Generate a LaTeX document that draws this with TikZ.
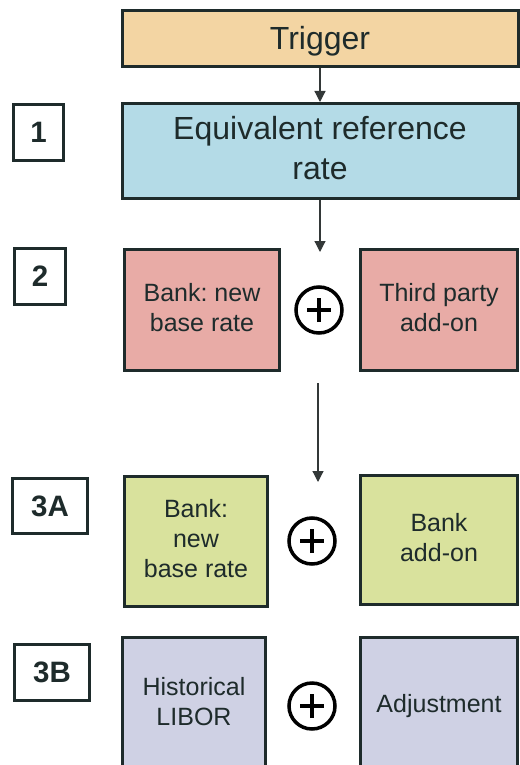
\documentclass[tikz,border=0pt]{standalone}
\usepackage{fontspec}
\setmainfont{Liberation Sans}
\frenchspacing
\usetikzlibrary{arrows.meta,positioning}
\definecolor{ink}{HTML}{1E2B2B}
\definecolor{wire}{HTML}{333838}
\definecolor{peach}{HTML}{F3D5A3}
\definecolor{sky}{HTML}{B4DBE7}
\definecolor{rose}{HTML}{E8ABA6}
\definecolor{lime}{HTML}{D9E29D}
\definecolor{lilac}{HTML}{CFD1E4}
\newcommand{\pptstrut}{\rule[-0.212em]{0pt}{1.117em}}
\tikzset{
flow/.style={>={Triangle[width=11pt,length=11pt]},x=1pt,y=-1pt},
dims/.style 2 args={minimum width=#1pt,minimum height=#2pt},
box/.style={rectangle,draw=ink,text=ink,line width=3pt,align=center,
    inner sep=0pt,execute at begin node=\pptstrut,
    execute at end node=\pptstrut,font=\fontsize{25}{30}\selectfont},
bigbox/.style={box,font=\fontsize{32}{40}\selectfont},
stage/.style={box,fill=white,font=\fontsize{29.5}{34}\selectfont\bfseries},
plus/.style={circle,draw=black,line width=3.5pt,minimum size=46pt,inner sep=0pt,
    path picture={\draw[line width=4pt]
      ([xshift=-12pt]path picture bounding box.center) --
      ([xshift=12pt]path picture bounding box.center)
      ([yshift=-12pt]path picture bounding box.center) --
      ([yshift=12pt]path picture bounding box.center);}},
link/.style={->,line width=1.2pt,draw=wire},
}

\begin{document}
\begin{tikzpicture}[flow]
    \fill[white] (0,0) rectangle (519,765);
    \useasboundingbox (0,0) rectangle (519,765);

    % top of the chain
    \node[bigbox,fill=peach,dims={396}{56.5}] (trigger) at (320,38.75) {Trigger};
    \node[bigbox,fill=sky,dims={396}{95}] (err) at (320,151) {Equivalent reference\\rate};

    % step labels
    \node[stage,dims={50}{56}] (s1) at (38.5,132.5) {1};
    \node[stage,dims={51}{56}] (s2) at (40,276.5) {2};
    \node[stage,dims={75}{55}] (s3a) at (50,506) {3A};
    \node[stage,dims={75}{56}] (s3b) at (52,672.5) {3B};

    % row 2
    \node[box,fill=rose,dims={155}{121}] (base2) at (202,310) {Bank: new\\base rate};
    \node[plus] (plus2) at (319,310) {};
    \node[box,fill=rose,dims={157}{121}] (third) at (439,310) {Third party\\add-on};

    % row 3A
    \node[box,fill=lime,dims={143}{130}] (base3a) at (196,541.5) {Bank:\\new\\base rate};
    \node[plus] (plus3a) at (312,541) {};
    \node[box,fill=lime,dims={157}{129}] (addon) at (439,540) {Bank\\add-on};

    % row 3B
    \node[box,fill=lilac,dims={143}{133}] (libor) at (194,704) {Historical\\LIBOR};
    \node[plus] (plus3b) at (312,706) {};
    \node[box,fill=lilac,dims={157}{133}] (adjust) at (439,704) {Adjustment};

    \coordinate (in2) at (320,252);
    \coordinate (out2) at (318,383);
    \coordinate (in3) at (318,482);

    \path
        (trigger) edge[link] (err)
        (err) edge[link] (in2)
        (out2) edge[link] (in3)
    ;
\end{tikzpicture}
\end{document}
